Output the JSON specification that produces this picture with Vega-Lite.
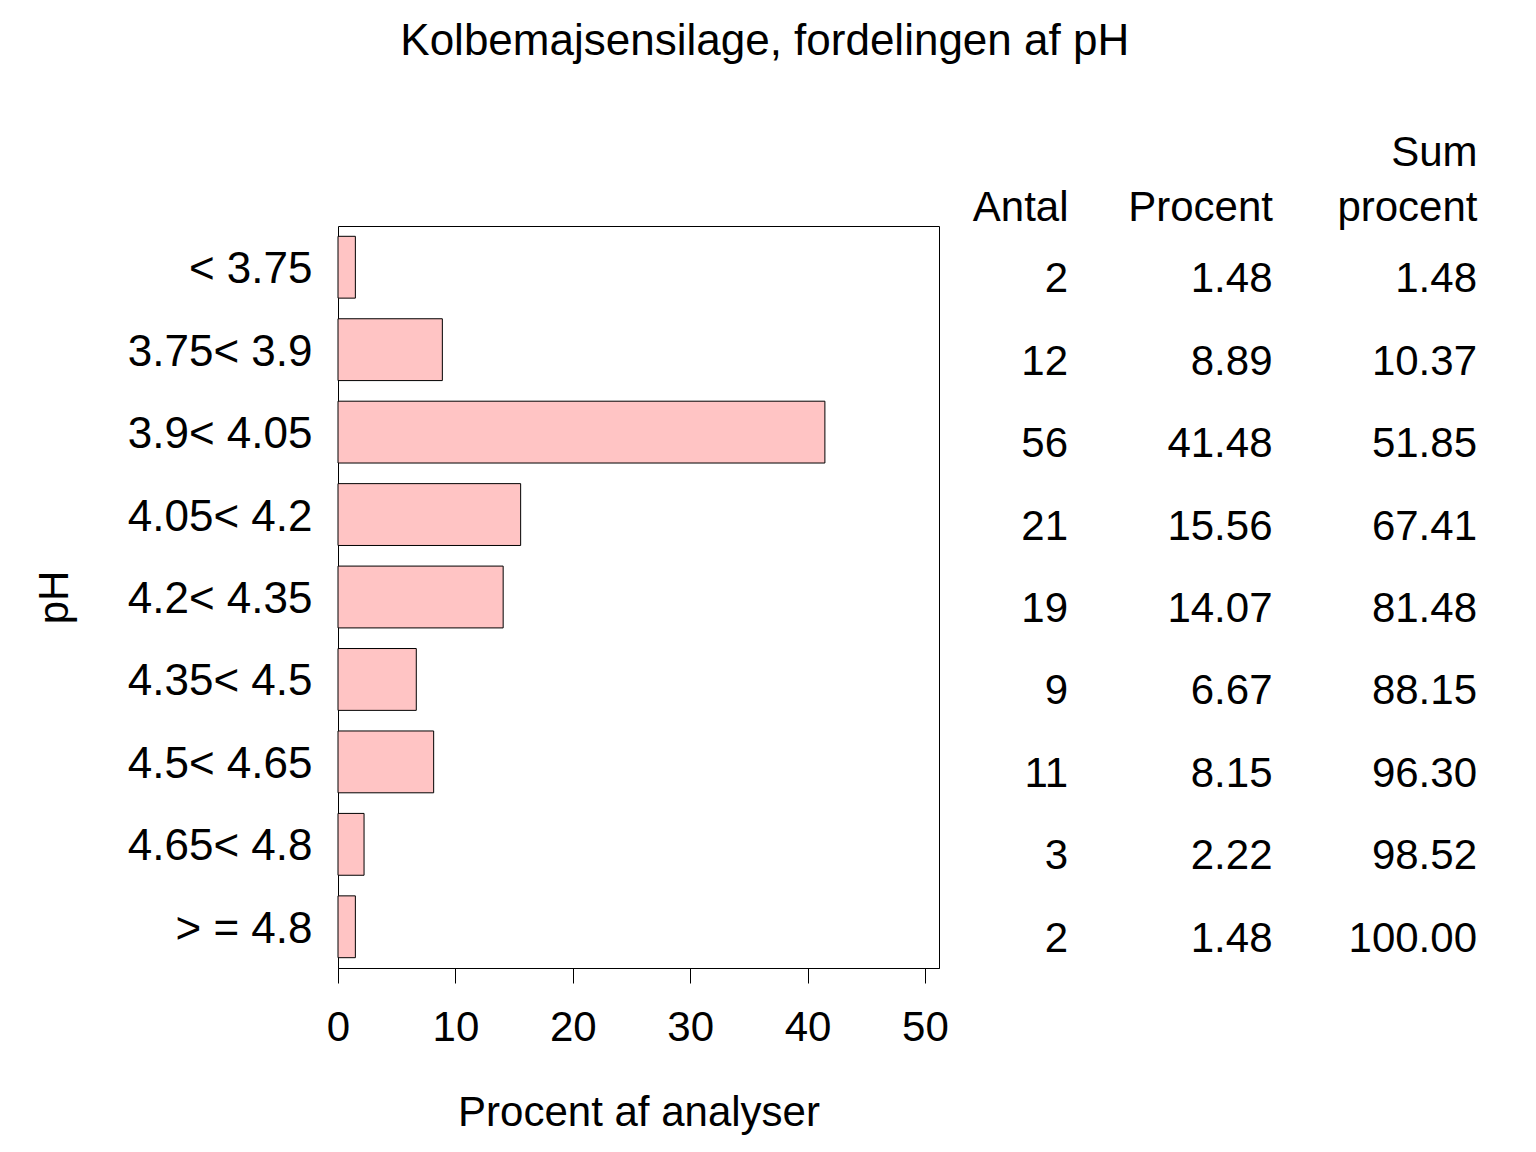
{
  "$schema": "https://vega.github.io/schema/vega-lite/v6.json",
  "background": "white",
  "padding": {"left": 32, "top": 20, "right": 5, "bottom": 5},
  "title": {"text": "Kolbemajsensilage, fordelingen af pH", "fontSize": 44, "font": "Liberation Sans", "fontWeight": "normal", "anchor": "middle", "offset": 67, "dx": 10, "color": "black"},
  "config": {
    "font": "Liberation Sans",
    "view": {"stroke": "black", "strokeWidth": 1},
    "axis": {"labelFont": "Liberation Sans", "titleFont": "Liberation Sans", "labelColor": "black", "titleColor": "black", "labelFontSize": 42, "titleFontSize": 42, "titleFontWeight": "normal", "tickColor": "black", "domainColor": "black"}
  },
  "datasets": {
    "ph": [
      {"pH": "< 3.75", "Antal": 2, "Procent": 1.48, "Sum_procent": 1.48},
      {"pH": "3.75< 3.9", "Antal": 12, "Procent": 8.89, "Sum_procent": 10.37},
      {"pH": "3.9< 4.05", "Antal": 56, "Procent": 41.48, "Sum_procent": 51.85},
      {"pH": "4.05< 4.2", "Antal": 21, "Procent": 15.56, "Sum_procent": 67.41},
      {"pH": "4.2< 4.35", "Antal": 19, "Procent": 14.07, "Sum_procent": 81.48},
      {"pH": "4.35< 4.5", "Antal": 9, "Procent": 6.67, "Sum_procent": 88.15},
      {"pH": "4.5< 4.65", "Antal": 11, "Procent": 8.15, "Sum_procent": 96.30},
      {"pH": "4.65< 4.8", "Antal": 3, "Procent": 2.22, "Sum_procent": 98.52},
      {"pH": "> = 4.8", "Antal": 2, "Procent": 1.48, "Sum_procent": 100.00}
    ]
  },
  "spacing": 23,
  "hconcat": [
    {
      "width": 601,
      "height": 742,
      "data": {"name": "ph"},
      "mark": {"type": "bar", "fill": "#ffc4c4", "stroke": "black", "strokeWidth": 1},
      "encoding": {
        "y": {"field": "pH", "type": "nominal", "sort": null,
              "scale": {"paddingInner": 0.25, "paddingOuter": 0.125},
              "axis": {"title": "pH", "ticks": false, "domain": false, "labelPadding": 26, "labelOffset": 3, "titlePadding": 62, "labelLimit": 400, "labelFontSize": 44}},
        "x": {"field": "Procent", "type": "quantitative",
              "scale": {"domain": [0, 51.2], "nice": false, "zero": true},
              "axis": {"values": [0, 10, 20, 30, 40, 50], "title": "Procent af analyser", "grid": false, "tickSize": 15, "labelPadding": 24, "titlePadding": 44, "labelFlush": false, "labelOverlap": false}}
      }
    },
    {
      "width": 409,
      "height": 742,
      "view": {"stroke": null},
      "data": {"name": "ph"},
      "encoding": {
        "y": {"field": "pH", "type": "nominal", "sort": null,
              "scale": {"paddingInner": 0.25, "paddingOuter": 0.125}, "axis": null}
      },
      "layer": [
        {
          "mark": {"type": "text", "align": "right", "baseline": "middle", "dy": 12, "fontSize": 42, "color": "black"},
          "encoding": {
            "x": {"datum": "Antal", "type": "ordinal",
                  "scale": {"type": "point", "domain": ["Antal", "Procent", "Sum procent"], "padding": 0},
                  "axis": {"orient": "top", "title": null, "ticks": false, "tickSize": 0, "domain": false, "labelAngle": 0, "labelAlign": "right", "labelBaseline": "bottom", "labelPadding": 52, "labelLineHeight": 55, "labelLimit": 400,
                           "labelExpr": "datum.value == 'Sum procent' ? ['Sum', 'procent'] : [' ', datum.value]"}},
            "text": {"field": "Antal", "type": "quantitative", "format": "d"}
          }
        },
        {
          "mark": {"type": "text", "align": "right", "baseline": "middle", "dy": 12, "fontSize": 42, "color": "black"},
          "encoding": {
            "x": {"datum": "Procent", "type": "ordinal"},
            "text": {"field": "Procent", "type": "quantitative", "format": ".2f"}
          }
        },
        {
          "mark": {"type": "text", "align": "right", "baseline": "middle", "dy": 12, "fontSize": 42, "color": "black"},
          "encoding": {
            "x": {"datum": "Sum procent", "type": "ordinal"},
            "text": {"field": "Sum_procent", "type": "quantitative", "format": ".2f"}
          }
        }
      ]
    }
  ]
}
